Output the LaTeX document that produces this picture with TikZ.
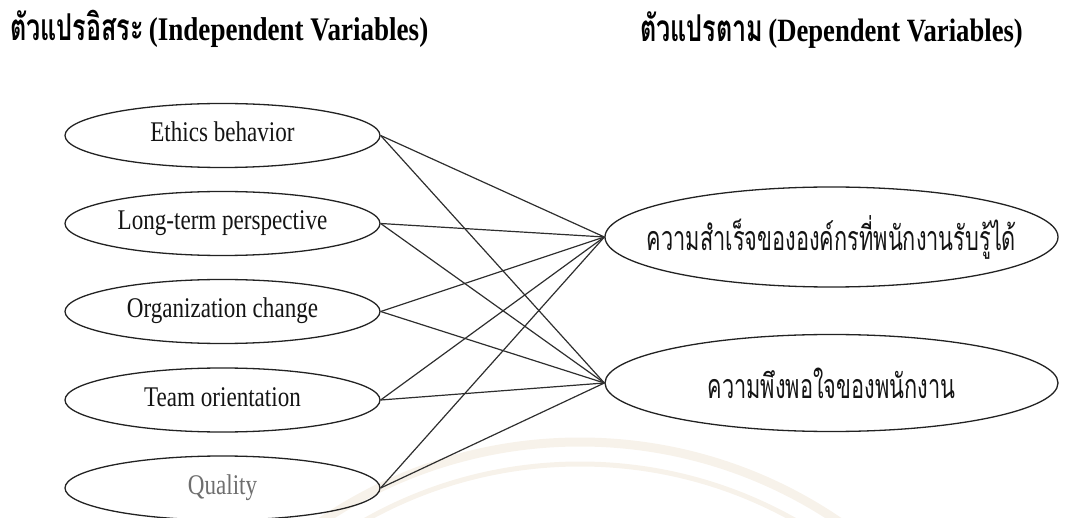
\documentclass[tikz,border=0pt]{standalone}
\usepackage{fontspec}
\setmainfont{Liberation Serif}[FakeStretch=0.81]
\newfontfamily\titlefont{Liberation Serif}[FakeStretch=0.82]
\newfontfamily\thaifont[Script=Thai,FakeStretch=0.64]{Loma}
\newfontfamily\thaititle[Script=Thai,FakeStretch=0.68]{Loma}
\usetikzlibrary{shapes.geometric}
\definecolor{inkc}{HTML}{222222}
\definecolor{linec}{HTML}{2E2E2E}
\definecolor{greytext}{HTML}{6E6E6E}
\definecolor{seal}{HTML}{F7F2EA}
\newcommand{\zw}[1]{\makebox[0pt][c]{#1}}
\tikzset{
  leftvar/.style={ellipse, draw=inkc, line width=1.3pt, minimum width=315pt, minimum height=64pt, inner sep=0pt,
    font=\fontsize{28.5}{30}\selectfont, text height=19pt, text depth=6pt, text=black!92},
  rightvar/.style={ellipse, draw=inkc, line width=1.3pt, minimum width=453pt, minimum height=100pt, inner sep=0pt,
    font=\thaifont\fontsize{34}{36}\selectfont, text=black!92},
  link/.style={draw=linec, line width=1.2pt},
  titletext/.style={anchor=base west, inner sep=0pt, text=black},
  sealarc/.style={draw=seal, line width=9pt}
}
\begin{document}
\begin{tikzpicture}[x=1pt,y=-1pt]
\useasboundingbox (0,0) rectangle (1065,518);
% faint watermark seal
\begin{scope}
\clip (0,0) rectangle (1065,518);
\coordinate (sealc) at (580,902);
\draw[sealarc] (sealc) circle[radius=460pt];
\draw[sealarc, line width=5pt] (sealc) circle[radius=438pt];
\end{scope}

\node[titletext] (t1) at (10,41) {{\thaititle\bfseries\fontsize{37}{40}\selectfont ตัวแปรอิสระ}\hspace{5pt}{\titlefont\bfseries\fontsize{33}{36}\selectfont(Independent Variables)}};
\node[titletext] (t2) at (640,42) {{\thaititle\bfseries\fontsize{37}{40}\selectfont ตัวแปรตาม}\hspace{5pt}{\titlefont\bfseries\fontsize{32.5}{36}\selectfont(Dependent Variables)}};

\node[leftvar] (a1) at (222.5,135.5) {Ethics behavior};
\node[leftvar] (a2) at (222.5,223.5) {Long-term perspective};
\node[leftvar] (a3) at (222.5,311.5) {Organization change};
\node[leftvar] (a4) at (222.5,400) {Team orientation};
\node[leftvar, text=greytext] (a5) at (222.5,488) {Quality};

\node[rightvar] (b1) at (831.5,237) {\zw{ความสำเร็จขององค์กรที่พนักงานรับรู้ได้}};
\node[rightvar, minimum height=97pt] (b2) at (831.5,383) {\zw{ความพึงพอใจของพนักงาน}};

\foreach \i in {1,...,5}{
  \draw[link] (a\i.east) -- (b1.west);
  \draw[link] (a\i.east) -- (b2.west);
}
\end{tikzpicture}
\end{document}
